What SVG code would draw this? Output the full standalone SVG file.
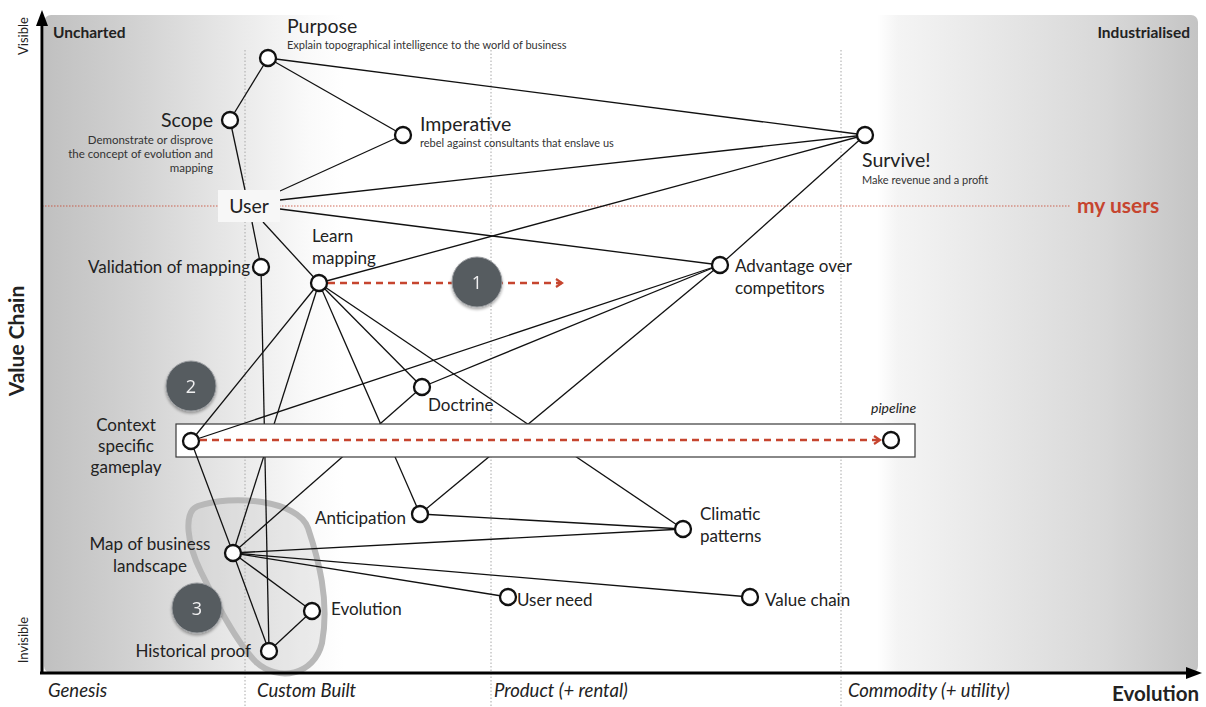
<svg xmlns="http://www.w3.org/2000/svg" width="1206" height="707" viewBox="0 0 1206 707">
<defs>
<linearGradient id="bg" x1="44" y1="0" x2="1198" y2="0" gradientUnits="userSpaceOnUse">
<stop offset="0" stop-color="#c0c0c0"/>
<stop offset="0.08" stop-color="#d2d2d2"/>
<stop offset="0.174" stop-color="#ebebeb"/>
<stop offset="0.23" stop-color="#fafafa"/>
<stop offset="0.26" stop-color="#ffffff"/>
<stop offset="0.722" stop-color="#ffffff"/>
<stop offset="0.74" stop-color="#f4f4f4"/>
<stop offset="0.83" stop-color="#e6e6e6"/>
<stop offset="0.92" stop-color="#d8d8d8"/>
<stop offset="1" stop-color="#c4c4c4"/>
</linearGradient>
<marker id="redarrow" markerWidth="10" markerHeight="10" refX="7" refY="5" orient="auto" markerUnits="userSpaceOnUse">
<path d="M1,1 L7,5 L1,9" fill="none" stroke="#c6452f" stroke-width="2.2"/>
</marker>
<filter id="sh" x="-30%" y="-30%" width="160%" height="160%">
<feGaussianBlur in="SourceAlpha" stdDeviation="1.5"/>
<feOffset dx="0" dy="2" result="b"/>
<feComponentTransfer><feFuncA type="linear" slope="0.35"/></feComponentTransfer>
<feMerge><feMergeNode/><feMergeNode in="SourceGraphic"/></feMerge>
</filter>
</defs>
<style>
text{font-family:Lato,"Open Sans","DejaVu Sans",sans-serif;fill:#222}
.big{font-size:19.5px}
.sub{font-size:11px;fill:#333}
.ssub{font-size:11.5px;fill:#333}
.lbl{font-size:17px}
.ax{font-size:18.5px;font-style:italic}
.edge{stroke:#111;stroke-width:1.3;fill:none}
.node{fill:#fff;stroke:#111;stroke-width:2.3}
.vdot{stroke:#a8a8a8;stroke-width:1;stroke-dasharray:1.5 2}
.red{stroke:#c6452f;stroke-width:2.6;stroke-dasharray:7 5;fill:none}
.num{fill:#565b61;stroke:#9a9da0;stroke-width:1}
.numt{font-family:"Open Sans",Lato,sans-serif;font-size:18px;fill:#f0f0f0;text-anchor:middle}
</style>
<rect width="1206" height="707" fill="#fff"/>
<rect x="44" y="15" width="1154" height="658" rx="7" fill="url(#bg)"/>
<g id="grid">
<line class="vdot" x1="245" y1="50" x2="245" y2="707"/>
<line class="vdot" x1="491" y1="50" x2="491" y2="707"/>
<line class="vdot" x1="841" y1="50" x2="841" y2="707"/>
<line x1="42" y1="206" x2="1070" y2="206" stroke="#c6452f" stroke-width="1" stroke-dasharray="1.5 1.5" opacity="0.8"/>
</g>
<path id="blob" d="M198 506 C232 494 298 500 308 528 C318 558 330 600 322 643 C314 676 278 682 256 662 C236 642 216 602 201 572 C188 546 182 512 198 506 Z" fill="#bdbdbd" fill-opacity="0.25" stroke="#b8b8b8" stroke-width="6"/>
<g id="axes">
<line x1="42" y1="673" x2="42" y2="24" stroke="#000" stroke-width="3"/>
<polygon points="42,10 36,26 48,26" fill="#000"/>
<line x1="40" y1="673" x2="1188" y2="673" stroke="#000" stroke-width="3"/>
<polygon points="1202,673 1186,667 1186,679" fill="#000"/>
<text x="28" y="36" font-size="13" text-anchor="middle" transform="rotate(-90 28 36)">Visible</text>
<text x="28" y="640" font-size="13" text-anchor="middle" transform="rotate(-90 28 640)">Invisible</text>
<text x="24" y="341" font-size="21" font-weight="bold" text-anchor="middle" transform="rotate(-90 24 341)">Value Chain</text>
<text x="53" y="38" font-size="15.5" font-weight="bold">Uncharted</text>
<text x="1190" y="38" font-size="15.5" font-weight="bold" text-anchor="end">Industrialised</text>
<text class="ax" x="48" y="697">Genesis</text>
<text class="ax" x="257" y="697">Custom Built</text>
<text class="ax" x="494" y="697">Product (+ rental)</text>
<text class="ax" x="848" y="697">Commodity (+ utility)</text>
<text x="1199" y="701" font-size="20.5" font-weight="bold" text-anchor="end">Evolution</text>
<text x="1077" y="213" font-size="21" font-weight="bold" style="fill:#c6452f">my users</text>
</g>
<g id="connectors">
<line class="edge" x1="268" y1="58" x2="230" y2="120"/>
<line class="edge" x1="268" y1="58" x2="403" y2="135"/>
<line class="edge" x1="268" y1="58" x2="865" y2="135"/>
<line class="edge" x1="230" y1="120" x2="245" y2="190"/>
<line class="edge" x1="280" y1="191" x2="403" y2="135"/>
<line class="edge" x1="280" y1="200" x2="865" y2="135"/>
<line class="edge" x1="280" y1="209" x2="720" y2="265"/>
<line class="edge" x1="252" y1="222" x2="261" y2="267"/>
<line class="edge" x1="263" y1="222" x2="319" y2="283"/>
<line class="edge" x1="319" y1="283" x2="865" y2="135"/>
<line class="edge" x1="720" y1="265" x2="865" y2="135"/>
<line class="edge" x1="422" y1="387" x2="720" y2="265"/>
<line class="edge" x1="319" y1="283" x2="422" y2="387"/>
<line class="edge" x1="261" y1="267" x2="269" y2="651"/>
<line class="edge" x1="319" y1="283" x2="233" y2="553"/>
<line class="edge" x1="319" y1="283" x2="420" y2="514"/>
<line class="edge" x1="319" y1="283" x2="683" y2="529"/>
<line class="edge" x1="720" y1="265" x2="420" y2="514"/>
<line class="edge" x1="233" y1="553" x2="422" y2="387"/>
<line class="edge" x1="420" y1="514" x2="683" y2="529"/>
<line class="edge" x1="233" y1="553" x2="683" y2="529"/>
<line class="edge" x1="233" y1="553" x2="750" y2="597"/>
<line class="edge" x1="233" y1="553" x2="508" y2="597"/>
<line class="edge" x1="233" y1="553" x2="312" y2="611"/>
<line class="edge" x1="233" y1="553" x2="269" y2="651"/>
<line class="edge" x1="312" y1="611" x2="269" y2="651"/>
</g>
<rect id="pipeline-box" x="176" y="424" width="739" height="33" fill="#fff" stroke="#3a3a3a" stroke-width="1.2"/>
<g id="connectors-context">
<line class="edge" x1="191" y1="441" x2="319" y2="283"/>
<line class="edge" x1="191" y1="441" x2="720" y2="265"/>
<line class="edge" x1="191" y1="441" x2="233" y2="553"/>
</g>
<g id="movement">
<line class="red" x1="328" y1="283" x2="562" y2="283" marker-end="url(#redarrow)"/>
<line class="red" x1="200" y1="440" x2="880" y2="440" marker-end="url(#redarrow)"/>
</g>
<g id="user">
<rect x="218" y="190" width="62" height="32" fill="#f7f7f7"/>
<text class="big" x="249" y="213" text-anchor="middle">User</text>
</g>
<g id="purpose">
<circle class="node" cx="268" cy="58" r="8"/>
<text class="big" x="287" y="33">Purpose</text>
<text class="sub" x="287" y="49">Explain topographical intelligence to the world of business</text>
</g>
<g id="scope">
<circle class="node" cx="230" cy="120" r="8"/>
<text class="big" x="213" y="127" text-anchor="end">Scope</text>
<text class="ssub" x="213" y="144" text-anchor="end">Demonstrate or disprove</text>
<text class="ssub" x="213" y="158" text-anchor="end">the concept of evolution and</text>
<text class="ssub" x="213" y="172" text-anchor="end">mapping</text>
</g>
<g id="imperative">
<circle class="node" cx="403" cy="135" r="8"/>
<text class="big" x="420" y="131">Imperative</text>
<text class="sub" x="420" y="147">rebel against consultants that enslave us</text>
</g>
<g id="survive">
<circle class="node" cx="865" cy="135" r="8"/>
<text class="big" x="862" y="167">Survive!</text>
<text class="sub" x="862" y="184">Make revenue and a profit</text>
</g>
<g id="validation">
<circle class="node" cx="261" cy="267" r="8"/>
<text class="lbl" x="250" y="273" text-anchor="end">Validation of mapping</text>
</g>
<g id="learn-mapping">
<circle class="node" cx="319" cy="283" r="8"/>
<text class="lbl" x="312" y="242">Learn</text>
<text class="lbl" x="312" y="264">mapping</text>
</g>
<g id="advantage">
<circle class="node" cx="720" cy="265" r="8"/>
<text class="lbl" x="735" y="272">Advantage over</text>
<text class="lbl" x="735" y="294">competitors</text>
</g>
<g id="doctrine">
<circle class="node" cx="422" cy="387" r="8"/>
<text class="lbl" x="428" y="411">Doctrine</text>
</g>
<g id="context">
<circle class="node" cx="191" cy="441" r="8"/>
<text class="lbl" x="126" y="431" text-anchor="middle">Context</text>
<text class="lbl" x="126" y="452" text-anchor="middle">specific</text>
<text class="lbl" x="126" y="473" text-anchor="middle">gameplay</text>
</g>
<g id="pipeline">
<circle class="node" cx="891" cy="440" r="8"/>
<text x="871" y="413" font-size="14" font-style="italic">pipeline</text>
</g>
<g id="anticipation">
<circle class="node" cx="420" cy="514" r="8"/>
<text class="lbl" x="406" y="524" text-anchor="end">Anticipation</text>
</g>
<g id="climatic">
<circle class="node" cx="683" cy="529" r="8"/>
<text class="lbl" x="700" y="520">Climatic</text>
<text class="lbl" x="700" y="542">patterns</text>
</g>
<g id="map-of-business">
<circle class="node" cx="233" cy="553" r="8"/>
<text class="lbl" x="150" y="550" text-anchor="middle">Map of business</text>
<text class="lbl" x="150" y="572" text-anchor="middle">landscape</text>
</g>
<g id="user-need">
<circle class="node" cx="508" cy="597" r="8"/>
<text class="lbl" x="517" y="606">User need</text>
</g>
<g id="value-chain">
<circle class="node" cx="750" cy="597" r="8"/>
<text class="lbl" x="765" y="606">Value chain</text>
</g>
<g id="evolution">
<circle class="node" cx="312" cy="611" r="8"/>
<text class="lbl" x="331" y="615">Evolution</text>
</g>
<g id="historical-proof">
<circle class="node" cx="269" cy="651" r="8"/>
<text class="lbl" x="251" y="657" text-anchor="end">Historical proof</text>
</g>
<g id="marker-1" filter="url(#sh)">
<circle class="num" cx="477" cy="282" r="25"/>
<text class="numt" x="477" y="289">1</text>
</g>
<g id="marker-2" filter="url(#sh)">
<circle class="num" cx="191" cy="386" r="25"/>
<text class="numt" x="191" y="393">2</text>
</g>
<g id="marker-3" filter="url(#sh)">
<circle class="num" cx="197" cy="608" r="25"/>
<text class="numt" x="197" y="615">3</text>
</g>
</svg>
